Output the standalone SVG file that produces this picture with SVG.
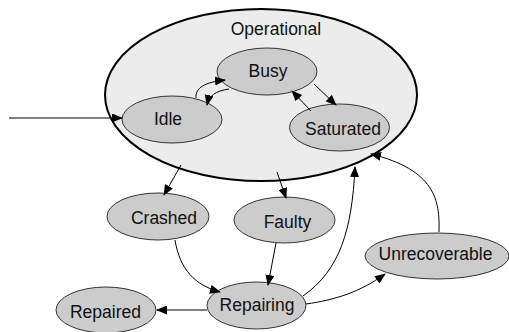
<svg xmlns="http://www.w3.org/2000/svg" width="509" height="332" viewBox="0 0 509 332">
<defs>
<marker id="ah" markerWidth="11" markerHeight="9" refX="10" refY="4.5" orient="auto" markerUnits="userSpaceOnUse">
<path d="M0,0 L11,4.5 L0,9 Z" fill="#000"/>
</marker>
<style>
.st{fill:#cccccc;stroke:#333;stroke-width:1}
.op{fill:#ececec;stroke:#000;stroke-width:2}
.t{font-family:"Liberation Sans",Arial,sans-serif;font-size:17.5px;fill:#111;text-anchor:middle}
.e{fill:none;stroke:#000;stroke-width:1;marker-end:url(#ah)}
</style>
</defs>
<rect width="509" height="332" fill="#fff"/>
<g id="Operational">
<ellipse class="op" cx="261" cy="95" rx="156" ry="86"/>
<text class="t" x="276" y="35">Operational</text>
</g>
<g id="Busy">
<ellipse class="st" cx="267" cy="71.5" rx="50" ry="23.5"/>
<text class="t" x="268" y="77">Busy</text>
</g>
<g id="Idle">
<ellipse class="st" cx="172" cy="119.5" rx="50" ry="23.5"/>
<text class="t" x="168" y="125">Idle</text>
</g>
<g id="Saturated">
<ellipse class="st" cx="339.5" cy="127.5" rx="50" ry="23.5"/>
<text class="t" x="343" y="135">Saturated</text>
</g>
<g id="Crashed">
<ellipse class="st" cx="158" cy="216.5" rx="51" ry="23.5"/>
<text class="t" x="164" y="224">Crashed</text>
</g>
<g id="Faulty">
<ellipse class="st" cx="284.5" cy="220" rx="50.5" ry="23"/>
<text class="t" x="287.5" y="228">Faulty</text>
</g>
<g id="Unrecoverable">
<ellipse class="st" cx="437" cy="256" rx="72" ry="23"/>
<text class="t" x="435.5" y="260">Unrecoverable</text>
</g>
<g id="Repairing">
<ellipse class="st" cx="256.5" cy="305.5" rx="49.5" ry="23.5"/>
<text class="t" x="257" y="311">Repairing</text>
</g>
<g id="Repaired">
<ellipse class="st" cx="106" cy="310" rx="50" ry="23"/>
<text class="t" x="105.5" y="318">Repaired</text>
</g>
<g id="connectors">
<path class="e" d="M9,118 L122,118"/>
<path class="e" d="M196,98 C195,88 205,82 225,80"/>
<path class="e" d="M229,89 C215,91 209,96 207,105"/>
<path class="e" d="M314,84 L336,105"/>
<path class="e" d="M311,111 L292,91"/>
<path class="e" d="M181,165 L164,195"/>
<path class="e" d="M277,172 L286,198"/>
<path class="e" d="M175,240 C180,270 195,285 220,292"/>
<path class="e" d="M276,243 L268,285"/>
<path class="e" d="M303,296 C340,270 352,230 355,167"/>
<path class="e" d="M306,304 C335,300 360,292 385,274"/>
<path class="e" d="M439,232 C440,200 435,170 371,154"/>
<path class="e" d="M207,310 L157,310"/>
</g>
</svg>
